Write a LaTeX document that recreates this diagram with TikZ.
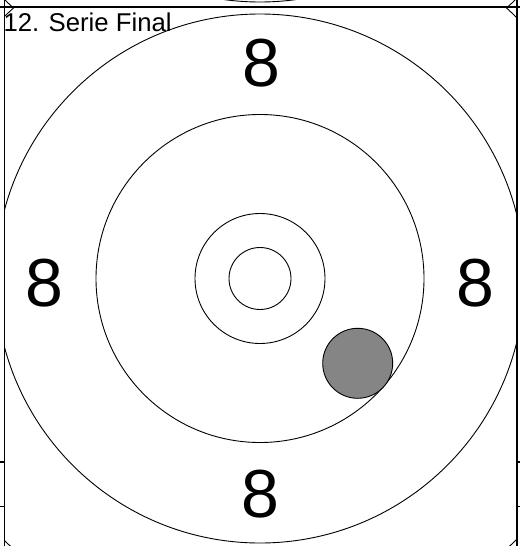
\documentclass[tikz,border=0pt]{standalone}
\usepackage{fontspec}
\setmainfont{Liberation Sans}
\definecolor{shotgray}{HTML}{858585}
\begin{document}
\begin{tikzpicture}[x=1pt,y=-1pt,
  ring/.style={line width=0.9pt},
  framel/.style={line width=1.2pt},
  ringnum/.style={inner sep=0pt,font=\fontsize{68}{70}\selectfont},
  shot/.style={circle,draw,line width=0.9pt,fill=shotgray,minimum size=70pt,inner sep=0pt}]
\useasboundingbox (0,0) rectangle (520,546);
\coordinate (c) at (260,278.5);
\coordinate (cu) at (260,-262.5);
% upper panel remnants
\begin{scope}
  \clip (4.5,-300) rectangle (517,7);
  \draw[ring] (cu) circle[radius=264.5];
  \draw[ring] (cu) circle[radius=366];
\end{scope}
% this panel
\begin{scope}
  \clip (4.5,7) rectangle (517,548);
  \draw[ring] (c) circle[radius=366];
  \draw[ring] (c) circle[radius=264.5];
  \draw[ring] (c) circle[radius=164];
  \draw[ring] (c) circle[radius=65];
  \draw[ring] (c) circle[radius=31];
\end{scope}
% ring numbers
\node[ringnum] (n8t) at (261,62.8) {8};
\node[ringnum] (n8b) at (260,494.5) {8};
\node[ringnum] (n8l) at (44.5,283) {8};
\node[ringnum] (n8r) at (475.5,283) {8};
% shot
\node[shot] (hit) at (357.7,363.3) {};
% title
\node[anchor=base west,inner sep=0pt,font=\fontsize{25.7}{30}\selectfont] (title) at (3.3,31.7) {12. Serie Final};
% frame
\draw[framel] (0,7) -- (520,7);
\draw[framel] (4.5,0) -- (4.5,546);
\draw[framel] (517,0) -- (517,546);
\draw[framel] (0,462) -- (4.5,462);
\draw[framel] (0,506.5) -- (4.5,506.5);
\draw[framel] (517,462) -- (520,462);
\draw[framel] (517,506.5) -- (520,506.5);
\end{tikzpicture}
\end{document}
